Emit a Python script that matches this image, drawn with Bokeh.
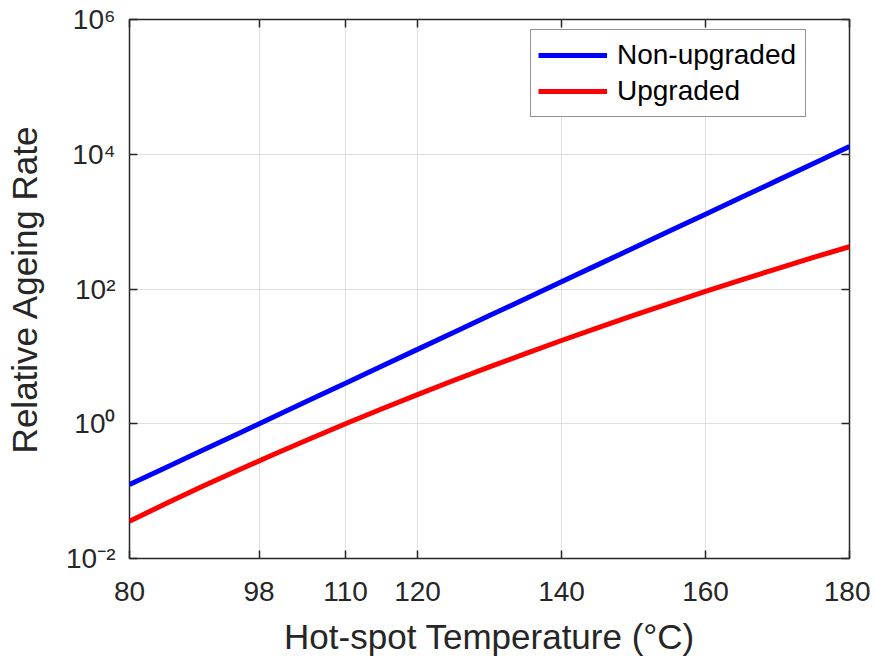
from bokeh.plotting import figure
from bokeh.models import ColumnDataSource, LinearAxis, LogAxis, FixedTicker, Legend, LegendItem
from bokeh.embed import file_html
from bokeh.resources import INLINE

# Data
temperature = [80, 85, 90, 95, 100, 105, 110, 115, 120, 125, 130,
               135, 140, 145, 150, 155, 160, 165, 170, 175, 180]
non_upgraded = [0.125, 0.223, 0.397, 0.707, 1.26, 2.245, 4.0, 7.13, 12.7, 22.6, 40.3,
                71.8, 128, 228, 406, 724, 1290, 2299, 4096, 7298, 13000]
upgraded = [0.0358, 0.0649, 0.116, 0.2025, 0.350, 0.595, 1.0, 1.655, 2.71, 4.38, 6.98,
            11.0, 17.2, 26.5, 40.6, 61.4, 92.0, 137, 201, 294, 424]

x_ticks = [80, 98, 110, 120, 140, 160, 180]
y_ticks = [1e-2, 1e0, 1e2, 1e4, 1e6]
y_tick_labels = ["10\u207b\u00b2", "10\u2070", "10\u00b2", "10\u2074", "10\u2076"]

FONT = "Liberation Sans"
TXT = "#262626"

p = figure(width=870, height=659, x_range=(80, 180), y_range=(1e-2, 1e6),
           y_axis_type="log", output_backend="svg", toolbar_location=None,
           min_border_left=129, min_border_top=19, min_border_right=21, min_border_bottom=101)

src = ColumnDataSource(dict(t=temperature, a=non_upgraded, b=upgraded))
r1 = p.line("t", "a", source=src, line_color="#0000FF", line_width=5)
r2 = p.line("t", "b", source=src, line_color="#FF0000", line_width=5)

p.outline_line_color = TXT
p.outline_line_width = 1.5
p.background_fill_color = "white"
p.border_fill_color = "white"

for g in (p.xgrid[0], p.ygrid[0]):
    g.grid_line_color = "#dedede"
    g.grid_line_width = 1
p.xgrid[0].ticker = FixedTicker(ticks=x_ticks)
p.ygrid[0].ticker = FixedTicker(ticks=y_ticks)

xa = p.xaxis[0]
xa.ticker = FixedTicker(ticks=x_ticks)
xa.axis_label = "Hot-spot Temperature (\u00b0C)"
ya = p.yaxis[0]
ya.ticker = FixedTicker(ticks=y_ticks)
ya.major_label_overrides = {t: s for t, s in zip(y_ticks, y_tick_labels)}
ya.axis_label = "Relative Ageing Rate"

for ax in (xa, ya):
    ax.axis_line_color = None
    ax.major_tick_in = 8
    ax.major_tick_out = 0
    ax.major_tick_line_color = TXT
    ax.major_tick_line_width = 1.5
    ax.minor_tick_line_color = None
    ax.major_label_text_font = FONT
    ax.major_label_text_font_size = "28px"
    ax.major_label_text_color = TXT
    ax.axis_label_text_font = FONT
    ax.axis_label_text_font_size = "35px"
    ax.axis_label_text_font_style = "normal"
    ax.axis_label_text_color = TXT
xa.major_label_standoff = 23
xa.axis_label_standoff = 13
ya.major_label_standoff = 14
ya.axis_label_standoff = 19

mirror = dict(major_label_text_font_size="1px", major_label_text_color=None,
              major_label_standoff=0, axis_line_color=None, major_tick_in=8,
              major_tick_out=0, major_tick_line_color=TXT, major_tick_line_width=1.5,
              minor_tick_line_color=None)
top = LinearAxis(ticker=FixedTicker(ticks=x_ticks), **mirror)
right = LogAxis(ticker=FixedTicker(ticks=y_ticks), **mirror)
p.add_layout(top, "above")
p.add_layout(right, "right")

legend = Legend(items=[LegendItem(label="Non-upgraded", renderers=[r1]),
                       LegendItem(label="Upgraded", renderers=[r2])],
                location=(401, 441), orientation="vertical")
legend.label_text_font = FONT
legend.label_text_font_size = "28px"
legend.label_text_color = "black"
legend.border_line_color = TXT
legend.border_line_width = 1.2
legend.padding = 7
legend.spacing = 0
legend.glyph_width = 69
legend.glyph_height = 36
legend.label_height = 36
legend.label_width = 181
legend.label_standoff = 10
legend.background_fill_alpha = 1
p.add_layout(legend)

open("out.html", "w").write(file_html(p, INLINE))
